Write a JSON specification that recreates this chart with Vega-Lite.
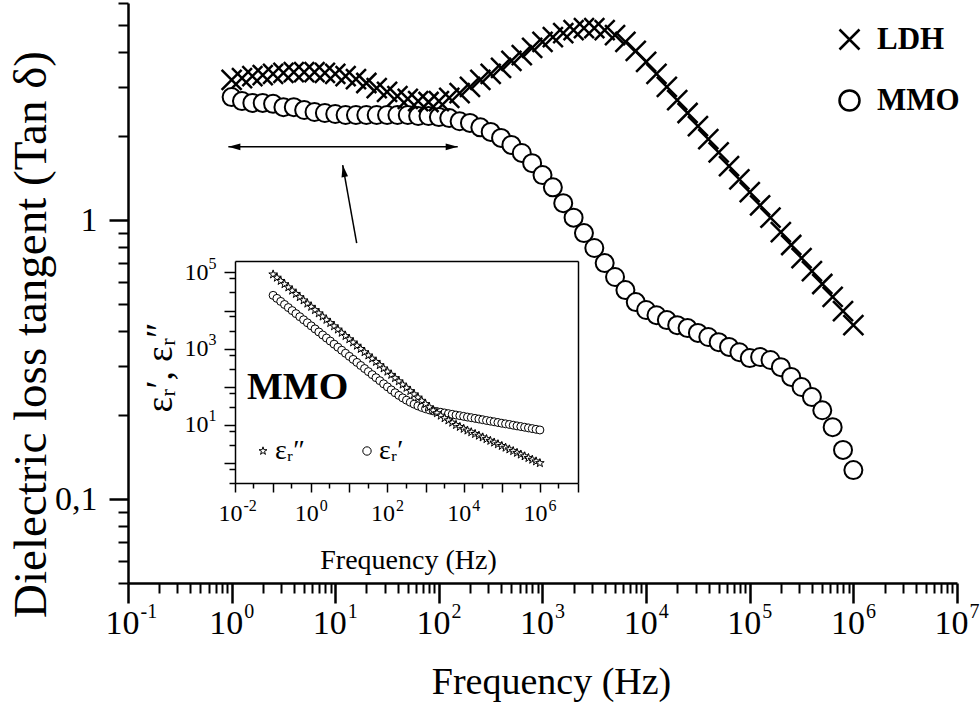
{
  "$schema": "https://vega.github.io/schema/vega-lite/v6.json",
  "width": 829,
  "height": 580,
  "autosize": {"type": "none"},
  "padding": {"left": 128, "top": 3, "right": 23, "bottom": 126},
  "background": "white",
  "config": {
    "view": {"stroke": null},
    "font": "Liberation Serif",
    "axis": {"grid": false, "domainColor": "black", "tickColor": "black", "labelColor": "black", "titleColor": "black", "labelFont": "Liberation Serif", "titleFont": "Liberation Serif", "titleFontWeight": "normal"},
    "legend": {"labelFont": "Liberation Serif", "titleFont": "Liberation Serif", "labelColor": "black", "titleColor": "black"}
  },
  "datasets": {
    "main": [
      {"f":1,"l":3.18,"m":2.76},{"f":1.259,"l":3.23,"m":2.67},{"f":1.585,"l":3.28,"m":2.63},{"f":1.995,"l":3.31,"m":2.63},{"f":2.512,"l":3.34,"m":2.61},
      {"f":3.162,"l":3.37,"m":2.54},{"f":3.981,"l":3.39,"m":2.54},{"f":5.012,"l":3.39,"m":2.48},{"f":6.31,"l":3.39,"m":2.44},{"f":7.943,"l":3.37,"m":2.42},
      {"f":10,"l":3.34,"m":2.40},{"f":12.59,"l":3.28,"m":2.38},{"f":15.85,"l":3.20,"m":2.38},{"f":19.95,"l":3.10,"m":2.38},{"f":25.12,"l":2.97,"m":2.38},
      {"f":31.62,"l":2.88,"m":2.38},{"f":39.81,"l":2.78,"m":2.38},{"f":50.12,"l":2.72,"m":2.38},{"f":63.1,"l":2.67,"m":2.36},{"f":79.43,"l":2.65,"m":2.36},
      {"f":100,"l":2.67,"m":2.34},{"f":125.9,"l":2.74,"m":2.32},{"f":158.5,"l":2.85,"m":2.26},{"f":199.5,"l":3.00,"m":2.23},{"f":251.2,"l":3.18,"m":2.15},
      {"f":316.2,"l":3.34,"m":2.07},{"f":398.1,"l":3.51,"m":1.97},{"f":501.2,"l":3.72,"m":1.86},{"f":631,"l":3.90,"m":1.74},{"f":794.3,"l":4.14,"m":1.60},
      {"f":1000,"l":4.35,"m":1.45},{"f":1259,"l":4.53,"m":1.31},{"f":1585,"l":4.68,"m":1.15},{"f":1995,"l":4.80,"m":1.02},{"f":2512,"l":4.88,"m":0.898},
      {"f":3162,"l":4.88,"m":0.794},{"f":3981,"l":4.80,"m":0.701},{"f":5012,"l":4.60,"m":0.625},{"f":6310,"l":4.35,"m":0.561},{"f":7943,"l":4.04,"m":0.508},
      {"f":10000,"l":3.69,"m":0.476},{"f":12590,"l":3.34,"m":0.456},{"f":15850,"l":3.00,"m":0.438},{"f":19950,"l":2.69,"m":0.420},{"f":25120,"l":2.42,"m":0.410},
      {"f":31620,"l":2.17,"m":0.394},{"f":39810,"l":1.95,"m":0.381},{"f":50120,"l":1.75,"m":0.365},{"f":63100,"l":1.56,"m":0.351},{"f":79430,"l":1.40,"m":0.336},
      {"f":100000,"l":1.26,"m":0.320},{"f":125900,"l":1.13,"m":0.323},{"f":158500,"l":1.02,"m":0.315},{"f":199500,"l":0.906,"m":0.297},{"f":251200,"l":0.814,"m":0.274},
      {"f":316200,"l":0.731,"m":0.252},{"f":398100,"l":0.656,"m":0.232},{"f":501200,"l":0.590,"m":0.208},{"f":631000,"l":0.530,"m":0.181},{"f":794300,"l":0.472,"m":0.150},
      {"f":1000000,"l":0.420,"m":0.127}
    ],
    "inset": [
      {"f":0.1,"s":89100,"c":25100},{"f":0.1259,"s":73300,"c":20900},{"f":0.1585,"s":60300,"c":17400},{"f":0.1995,"s":49500,"c":14450},{"f":0.2512,"s":40700,"c":12000},
      {"f":0.3162,"s":33500,"c":10000},{"f":0.3981,"s":27500,"c":8320},{"f":0.5012,"s":22600,"c":6920},{"f":0.631,"s":18600,"c":5750},{"f":0.7943,"s":15300,"c":4790},
      {"f":1,"s":12600,"c":3980},{"f":1.259,"s":10350,"c":3310},{"f":1.585,"s":8510,"c":2750},{"f":1.995,"s":7000,"c":2290},{"f":2.512,"s":5750,"c":1905},
      {"f":3.162,"s":4730,"c":1585},{"f":3.981,"s":3890,"c":1318},{"f":5.012,"s":3200,"c":1096},{"f":6.31,"s":2630,"c":912},{"f":7.943,"s":2160,"c":759},
      {"f":10,"s":1778,"c":631},{"f":12.59,"s":1462,"c":525},{"f":15.85,"s":1202,"c":437},{"f":19.95,"s":989,"c":363},{"f":25.12,"s":813,"c":302},
      {"f":31.62,"s":668,"c":251},{"f":39.81,"s":550,"c":209},{"f":50.12,"s":452,"c":174},{"f":63.1,"s":372,"c":145},{"f":79.43,"s":305,"c":120},
      {"f":100,"s":251,"c":100},{"f":125.9,"s":207,"c":83.2},{"f":158.5,"s":170,"c":70.0},{"f":199.5,"s":140,"c":59.6},{"f":251.2,"s":115,"c":51.3},
      {"f":316.2,"s":94.4,"c":44.7},{"f":398.1,"s":77.6,"c":39.4},{"f":501.2,"s":63.8,"c":35.1},{"f":631,"s":52.5,"c":31.6},{"f":794.3,"s":43.2,"c":28.8},
      {"f":1000,"s":35.5,"c":26.6},{"f":1259,"s":29.2,"c":24.8},{"f":1585,"s":24.0,"c":23.4},{"f":1995,"s":20.4,"c":22.4},{"f":2512,"s":17.6,"c":21.5},
      {"f":3162,"s":15.1,"c":20.6},{"f":3981,"s":13.2,"c":19.8},{"f":5012,"s":11.5,"c":19.0},{"f":6310,"s":10.0,"c":18.2},{"f":7943,"s":8.91,"c":17.5},
      {"f":10000,"s":7.94,"c":16.8},{"f":12590,"s":7.16,"c":16.1},{"f":15850,"s":6.46,"c":15.5},{"f":19950,"s":5.82,"c":14.9},{"f":25120,"s":5.25,"c":14.3},
      {"f":31620,"s":4.73,"c":13.7},{"f":39810,"s":4.27,"c":13.1},{"f":50120,"s":3.85,"c":12.6},{"f":63100,"s":3.47,"c":12.1},{"f":79430,"s":3.13,"c":11.6},
      {"f":100000,"s":2.82,"c":11.1},{"f":125900,"s":2.54,"c":10.7},{"f":158500,"s":2.29,"c":10.3},{"f":199500,"s":2.07,"c":9.84},{"f":251200,"s":1.86,"c":9.44},
      {"f":316200,"s":1.68,"c":9.08},{"f":398100,"s":1.51,"c":8.71},{"f":501200,"s":1.36,"c":8.36},{"f":631000,"s":1.23,"c":8.02},{"f":794300,"s":1.11,"c":7.69},
      {"f":1000000,"s":1.00,"c":7.38}
    ],
    "arrowH": [{"f1": 0.93, "f2": 152, "v": 1.83}],
    "arrowD": [{"f1": 16.1, "f2": 11.8, "v1": 0.827, "v2": 1.575}]
  },
  "layer": [
    {
      "layer": [
        {
          "data": {"name": "main"},
          "mark": {"type": "point", "filled": true, "fill": "white", "stroke": "black", "strokeWidth": 2, "size": 324, "opacity": 1},
          "encoding": {
            "x": {"field": "f", "type": "quantitative", "scale": {"type": "log", "domain": [0.1, 10000000], "nice": false},
              "axis": {"orient": "bottom", "values": [0.2,0.3,0.4,0.5,0.6,0.7,0.8,0.9,2,3,4,5,6,7,8,9,20,30,40,50,60,70,80,90,200,300,400,500,600,700,800,900,2000,3000,4000,5000,6000,7000,8000,9000,20000,30000,40000,50000,60000,70000,80000,90000,200000,300000,400000,500000,600000,700000,800000,900000,2000000,3000000,4000000,5000000,6000000,7000000,8000000,9000000], "labels": false, "domain": false, "tickSize": 10, "tickWidth": 2, "title": null}},
            "y": {"field": "m", "type": "quantitative", "scale": {"type": "log", "domain": [0.05, 6], "nice": false},
              "axis": {"orient": "left", "values": [0.05,0.06,0.07,0.08,0.09,0.2,0.3,0.4,0.5,0.6,0.7,0.8,0.9,2,3,4,5,6], "labels": false, "domain": false, "tickSize": 10, "tickWidth": 2, "title": null}},
            "shape": {"datum": "MMO", "type": "nominal", "scale": {"domain": ["LDH", "MMO"], "range": ["M-1,-1L1,1M1,-1L-1,1", "circle"]},
              "legend": {"orient": "none", "legendX": 706, "legendY": 21, "title": null, "padding": 0, "symbolSize": 400, "symbolStrokeWidth": 2.5, "labelFontSize": 31, "labelFontWeight": "bold", "labelOffset": 12, "rowPadding": 29, "labelBaseline": "middle",
                "encode": {"symbols": {"update": {"stroke": {"value": "black"}, "fill": {"value": "white"}, "strokeWidth": {"value": 2.5}, "opacity": {"value": 1}}}}}}
          }
        },
        {
          "data": {"name": "main"},
          "mark": {"type": "point", "filled": false, "stroke": "black", "strokeWidth": 2.5, "size": 400, "opacity": 1},
          "encoding": {
            "x": {"field": "f", "type": "quantitative", "scale": {"type": "log", "domain": [0.1, 10000000], "nice": false},
              "axis": {"orient": "bottom", "values": [0.1,1,10,100,1000,10000,100000,1000000,10000000], "labelExpr": "'10'", "labelFontSize": 34, "labelOffset": -6, "labelPadding": 3, "labelBaseline": "top", "labelFlush": false, "labelOverlap": false, "tickSize": 20, "tickWidth": 2.5, "domainWidth": 2.5,
                "title": "Frequency (Hz)", "titleFontSize": 38, "titleX": 423, "titleY": 110, "titleBaseline": "alphabetic", "titleAlign": "center", "titleAngle": 0}},
            "y": {"field": "l", "type": "quantitative", "scale": {"type": "log", "domain": [0.05, 6], "nice": false},
              "axis": {"orient": "left", "values": [0.1, 1], "labelExpr": "datum.value == 1 ? '1' : '0,1'", "labelFontSize": 34, "labelPadding": 12, "labelBaseline": "middle", "labelFlush": false, "labelOverlap": false, "tickSize": 19, "tickWidth": 2.5, "domainWidth": 2.5,
                "title": "Dielectric loss tangent (Tan δ)", "titleFontSize": 47, "titleX": -97, "titleY": 331, "titleBaseline": "middle", "titleAlign": "center", "titleAngle": 270}},
            "shape": {"datum": "LDH", "type": "nominal"}
          }
        },
        {
          "data": {"name": "arrowH"},
          "mark": {"type": "rule", "color": "black", "strokeWidth": 1.5},
          "encoding": {
            "x": {"field": "f1", "type": "quantitative", "scale": {"type": "log", "domain": [0.1, 10000000], "nice": false},
              "axis": {"orient": "bottom", "values": [0.1,1,10,100,1000,10000,100000,1000000,10000000], "labelExpr": "['-1','0','1','2','3','4','5','6','7'][round(log(datum.value)/LN10)+1]", "labelFontSize": 20, "labelAlign": "left", "labelOffset": 12, "labelPadding": 18, "labelBaseline": "top", "labelFlush": false, "labelOverlap": false, "ticks": true, "tickSize": 0, "tickOpacity": 0, "domain": false, "title": null}},
            "x2": {"field": "f2"},
            "y": {"field": "v", "type": "quantitative", "scale": {"type": "log", "domain": [0.05, 6], "nice": false}, "axis": null}
          }
        },
        {
          "data": {"name": "arrowH"},
          "mark": {"type": "point", "filled": true, "color": "black", "strokeWidth": 0, "size": 144, "opacity": 1, "shape": "M0,0L2,-0.55L2,0.55Z"},
          "encoding": {
            "x": {"field": "f1", "type": "quantitative", "scale": {"type": "log", "domain": [0.1, 10000000], "nice": false}, "axis": null},
            "y": {"field": "v", "type": "quantitative", "scale": {"type": "log", "domain": [0.05, 6], "nice": false}, "axis": null}
          }
        },
        {
          "data": {"name": "arrowH"},
          "mark": {"type": "point", "filled": true, "color": "black", "strokeWidth": 0, "size": 144, "opacity": 1, "shape": "M0,0L-2,-0.55L-2,0.55Z"},
          "encoding": {
            "x": {"field": "f2", "type": "quantitative", "scale": {"type": "log", "domain": [0.1, 10000000], "nice": false}, "axis": null},
            "y": {"field": "v", "type": "quantitative", "scale": {"type": "log", "domain": [0.05, 6], "nice": false}, "axis": null}
          }
        },
        {
          "data": {"name": "arrowD"},
          "mark": {"type": "rule", "color": "black", "strokeWidth": 1.5},
          "encoding": {
            "x": {"field": "f1", "type": "quantitative", "scale": {"type": "log", "domain": [0.1, 10000000], "nice": false}, "axis": null},
            "x2": {"field": "f2"},
            "y": {"field": "v1", "type": "quantitative", "scale": {"type": "log", "domain": [0.05, 6], "nice": false}, "axis": null},
            "y2": {"field": "v2"}
          }
        },
        {
          "data": {"name": "arrowD"},
          "mark": {"type": "point", "filled": true, "color": "black", "strokeWidth": 0, "size": 144, "opacity": 1, "angle": 350, "shape": "M0,0L-0.55,2L0.55,2Z"},
          "encoding": {
            "x": {"field": "f2", "type": "quantitative", "scale": {"type": "log", "domain": [0.1, 10000000], "nice": false}, "axis": null},
            "y": {"field": "v2", "type": "quantitative", "scale": {"type": "log", "domain": [0.05, 6], "nice": false}, "axis": null}
          }
        }
      ],
      "resolve": {"axis": {"x": "independent", "y": "independent"}}
    },
    {
      "data": {"name": "inset"},
      "layer": [
        {
          "mark": {"type": "point", "filled": true, "fill": "white", "stroke": "black", "strokeWidth": 1, "size": 64, "opacity": 1},
          "encoding": {
            "x": {"field": "f", "type": "quantitative", "scale": {"type": "log", "domain": [0.01, 10000000], "range": [107, 450], "nice": false},
              "axis": {"orient": "bottom", "offset": -100, "values": [0.03,0.3,3,30,300,3000,30000,300000,3000000], "labels": false, "domain": false, "tickSize": 5, "tickWidth": 1.5, "title": null}},
            "y": {"field": "c", "type": "quantitative", "scale": {"type": "log", "domain": [0.3, 200000], "range": [480, 258], "nice": false},
              "axis": {"orient": "left", "offset": -107, "values": [0.3,0.7,3,7,30,70,300,700,3000,7000,30000,70000], "labels": false, "domain": false, "tickSize": 6, "tickWidth": 1.5, "title": null}},
            "shape": {"datum": "εᵣ′", "type": "nominal", "scale": {"domain": ["εᵣ″", "εᵣ′"], "range": ["M0,-1L0.225,-0.309L0.951,-0.309L0.363,0.118L0.588,0.809L0,0.382L-0.588,0.809L-0.363,0.118L-0.951,-0.309L-0.225,-0.309Z", "circle"]},
              "legend": {"orient": "none", "legendX": 119, "legendY": 366, "direction": "horizontal", "title": "MMO", "titleFontSize": 38, "titleFontWeight": "bold", "titlePadding": 30, "titleAnchor": "start", "padding": 0, "symbolSize": 70, "symbolStrokeWidth": 1, "symbolOffset": 2, "labelFontSize": 28, "labelOffset": -2, "columnPadding": 46, "labelBaseline": "middle",
                "encode": {"symbols": {"update": {"stroke": {"value": "black"}, "fill": {"value": "white"}, "strokeWidth": {"value": 1}, "opacity": {"value": 1}}}}}}
          }
        },
        {
          "mark": {"type": "point", "filled": true, "fill": "white", "stroke": "black", "strokeWidth": 1, "size": 81, "opacity": 1},
          "encoding": {
            "x": {"field": "f", "type": "quantitative", "scale": {"type": "log", "domain": [0.01, 10000000], "range": [107, 450], "nice": false},
              "axis": {"orient": "bottom", "offset": -100, "values": [0.01,0.1,1,10,100,1000,10000,100000,1000000,10000000], "labelExpr": "indexof([0.01,1,100,10000,1000000], datum.value) >= 0 ? '10' : ''", "labelFontSize": 24, "labelOffset": -5, "labelPadding": 9, "labelBaseline": "top", "labelFlush": false, "labelOverlap": false, "tickSize": 9, "tickWidth": 1.5, "domainWidth": 1.5,
                "title": "Frequency (Hz)", "titleFontSize": 28, "titleX": 280, "titleY": 85, "titleBaseline": "alphabetic", "titleAlign": "center", "titleAngle": 0}},
            "y": {"field": "s", "type": "quantitative", "scale": {"type": "log", "domain": [0.3, 200000], "range": [480, 258], "nice": false},
              "axis": {"orient": "left", "offset": -107, "values": [1,10,100,1000,10000,100000], "labelExpr": "indexof([10,1000,100000], datum.value) >= 0 ? '10' : ''", "labelFontSize": 24, "labelPadding": 16, "labelBaseline": "middle", "labelFlush": false, "labelOverlap": false, "tickSize": 11, "tickWidth": 1.5, "domainWidth": 1.5,
                "title": "εᵣ′, εᵣ″", "titleFontSize": 37, "titleX": -75, "titleY": 364, "titleBaseline": "middle", "titleAlign": "center", "titleAngle": 270}},
            "shape": {"datum": "εᵣ″", "type": "nominal"}
          }
        },
        {
          "mark": {"type": "point", "opacity": 0},
          "encoding": {
            "x": {"field": "f", "type": "quantitative", "scale": {"type": "log", "domain": [0.01, 10000000], "range": [107, 450], "nice": false},
              "axis": {"orient": "bottom", "offset": -100, "values": [0.01,1,100,10000,1000000], "labelExpr": "['-2','0','2','4','6'][round(log(datum.value)/LN10/2)+1]", "labelFontSize": 16, "labelAlign": "left", "labelOffset": 8, "labelPadding": 14, "labelBaseline": "top", "labelFlush": false, "labelOverlap": false, "ticks": true, "tickSize": 0, "tickOpacity": 0, "domain": false, "title": null}},
            "y": {"field": "c", "type": "quantitative", "scale": {"type": "log", "domain": [0.3, 200000], "range": [480, 258], "nice": false},
              "axis": {"orient": "left", "offset": -107, "values": [10,1000,100000], "labelExpr": "['1','3','5'][round((log(datum.value)/LN10-1)/2)]", "labelFontSize": 16, "labelAlign": "left", "labelPadding": 27, "labelOffset": -9, "labelBaseline": "middle", "labelFlush": false, "labelOverlap": false, "ticks": true, "tickSize": 0, "tickOpacity": 0, "domain": false, "title": null}}
          }
        },
        {
          "mark": {"type": "point", "opacity": 0},
          "encoding": {
            "x": {"field": "f", "type": "quantitative", "scale": {"type": "log", "domain": [0.01, 10000000], "range": [107, 450], "nice": false},
              "axis": {"orient": "top", "offset": -258, "ticks": false, "labels": false, "domain": true, "domainWidth": 1.5, "title": null}},
            "y": {"field": "c", "type": "quantitative", "scale": {"type": "log", "domain": [0.3, 200000], "range": [480, 258], "nice": false},
              "axis": {"orient": "right", "offset": -379, "ticks": false, "labels": false, "domain": true, "domainWidth": 1.5, "title": null}}
          }
        }
      ],
      "resolve": {"axis": {"x": "independent", "y": "independent"}}
    }
  ],
  "resolve": {
    "scale": {"x": "independent", "y": "independent", "shape": "independent"},
    "axis": {"x": "independent", "y": "independent"},
    "legend": {"shape": "independent"}
  }
}
